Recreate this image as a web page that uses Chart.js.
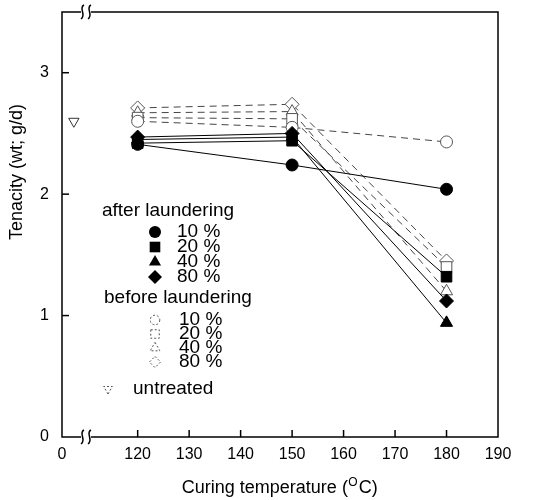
<!DOCTYPE html>
<html><head><meta charset="utf-8">
<script src="https://cdn.jsdelivr.net/npm/chart.js@4/dist/chart.umd.min.js"></script>
<style>html,body{margin:0;padding:0;background:#fff}</style>
</head><body>
<canvas id="c" width="547" height="500"></canvas>
<script>
// ---- data ----
const temperatures = [120, 150, 180];
const after10 = [2.41, 2.24, 2.04];
const after20 = [2.42, 2.44, 1.32];
const after40 = [2.45, 2.47, 0.94];
const after80 = [2.47, 2.50, 1.12];
const before10 = [2.60, 2.55, 2.43];
const before20 = [2.63, 2.62, 1.40];
const before40 = [2.67, 2.68, 1.20];
const before80 = [2.71, 2.74, 1.45];
const untreatedTemp = [0];
const untreatedTenacity = [2.60];
const xTickValues = [0, 120, 130, 140, 150, 160, 170, 180, 190];
const yTickValues = [0, 1, 2, 3];
const legendAfter = ['10 %', '20 %', '40 %', '80 %'];
const legendBefore = ['10 %', '20 %', '40 %', '80 %'];

// ---- axis break: 0 is drawn at the left end of the broken axis ----
const BREAK_ZERO = 105.3;
const UNTREATED_SHIFT = 2.3;
function toAxis(t) { return t < 100 ? BREAK_ZERO + t : t; }

const FONT = "'Liberation Sans', Arial, sans-serif";

function pts(ys) { return temperatures.map((t, i) => ({x: t, y: ys[i]})); }
function afterDs(ys, style, r) {
  return {data: pts(ys), borderColor: '#000', borderWidth: 1, pointStyle: style,
    pointRadius: r, pointBackgroundColor: '#000', pointBorderColor: '#000', pointBorderWidth: 1, order: 1};
}
function beforeDs(ys, style, r) {
  return {data: pts(ys), borderColor: '#444', borderWidth: 1, borderDash: [7, 5], pointStyle: style,
    pointRadius: r, pointBackgroundColor: '#fff', pointBorderColor: '#555', pointBorderWidth: 1, order: 2};
}

const datasets = [
  beforeDs(before10, 'circle', 6),
  beforeDs(before20, 'rect', 7.5),
  beforeDs(before40, 'triangle', 7),
  beforeDs(before80, 'rectRot', 7),
  afterDs(after10, 'circle', 6),
  afterDs(after20, 'rect', 7.5),
  afterDs(after40, 'triangle', 7),
  afterDs(after80, 'rectRot', 7),
  {data: untreatedTemp.map((t, i) => ({x: toAxis(t) + UNTREATED_SHIFT, y: untreatedTenacity[i]})),
   showLine: false, pointStyle: 'triangle', rotation: 180, pointRadius: 6,
   pointBackgroundColor: '#fff', pointBorderColor: '#333', pointBorderWidth: 1}
];

function shape(ctx, style, x, y, r, filled) {
  ctx.save();
  ctx.beginPath();
  if (style === 'circle') ctx.arc(x, y, r, 0, Math.PI * 2);
  else if (style === 'rect') { const s = r * Math.SQRT1_2; ctx.rect(x - s, y - s, 2 * s, 2 * s); }
  else if (style === 'triangle') { ctx.moveTo(x, y - r); ctx.lineTo(x + r * 0.866, y + r * 0.5); ctx.lineTo(x - r * 0.866, y + r * 0.5); ctx.closePath(); }
  else if (style === 'triDown') { ctx.moveTo(x, y + r); ctx.lineTo(x + r * 0.866, y - r * 0.5); ctx.lineTo(x - r * 0.866, y - r * 0.5); ctx.closePath(); }
  else if (style === 'rectRot') { ctx.moveTo(x, y - r); ctx.lineTo(x + r, y); ctx.lineTo(x, y + r); ctx.lineTo(x - r, y); ctx.closePath(); }
  if (filled) { ctx.fillStyle = '#000'; ctx.fill(); }
  else { ctx.fillStyle = '#fff'; ctx.fill(); ctx.strokeStyle = '#555'; ctx.lineWidth = 1; ctx.setLineDash([2, 2]); ctx.stroke(); }
  ctx.restore();
}

function squiggle(ctx, x, y) {
  ctx.save();
  ctx.fillStyle = '#fff';
  ctx.fillRect(x - 1, y - 3, 10, 6);
  ctx.strokeStyle = '#000';
  ctx.lineWidth = 1.5;
  [x, x + 7].forEach(sx => {
    ctx.beginPath();
    ctx.moveTo(sx + 2, y - 7);
    ctx.bezierCurveTo(sx - 4, y - 4, sx + 5, y + 3, sx - 1, y + 7);
    ctx.stroke();
  });
  ctx.restore();
}

const decor = {
  id: 'decor',
  afterDatasetsDraw(chart) {
    const ctx = chart.ctx, a = chart.chartArea;
    const xs = chart.scales.x, ys = chart.scales.y;
    ctx.save();
    // frame
    ctx.strokeStyle = '#000';
    ctx.lineWidth = 1.5;
    ctx.strokeRect(a.left, a.top, a.right - a.left, a.bottom - a.top);
    // inward ticks
    yTickValues.forEach(v => {
      if (v === 0) return;
      const py = ys.getPixelForValue(v);
      ctx.beginPath(); ctx.moveTo(a.left, py); ctx.lineTo(a.left + 7, py); ctx.stroke();
    });
    xTickValues.forEach(v => {
      if (v === 0 || v === 190) return;
      const px = xs.getPixelForValue(toAxis(v));
      ctx.beginPath(); ctx.moveTo(px, a.bottom); ctx.lineTo(px, a.bottom - 7); ctx.stroke();
    });
    // axis breaks
    const bx = a.left + 20;
    squiggle(ctx, bx, a.bottom);
    squiggle(ctx, bx, a.top);

    // axis titles
    ctx.fillStyle = '#000';
    ctx.textBaseline = 'middle';
    const big = '18px ' + FONT, sup = '12px ' + FONT;
    const p1 = 'Curing temperature (', p2 = 'O', p3 = 'C)';
    ctx.font = big; const w1 = ctx.measureText(p1).width, w3 = ctx.measureText(p3).width;
    ctx.font = sup; const w2 = ctx.measureText(p2).width;
    let tx = 279 - (w1 + w2 + w3) / 2, ty = 488;
    ctx.textAlign = 'left';
    ctx.font = big; ctx.fillText(p1, tx, ty);
    ctx.font = sup; ctx.fillText(p2, tx + w1 + 0.5, ty - 5);
    ctx.font = big; ctx.fillText(p3, tx + w1 + w2 + 1.5, ty);
    // y title
    ctx.save();
    ctx.translate(17, 172);
    ctx.rotate(-Math.PI / 2);
    ctx.textAlign = 'center';
    ctx.font = big;
    ctx.fillText('Tenacity (wt; g/d)', 0, 0);
    ctx.restore();

    // legend
    ctx.font = '19px ' + FONT;
    ctx.textAlign = 'left';
    ctx.fillText('after laundering', 102, 211);
    const styles = ['circle', 'rect', 'triangle', 'rectRot'];
    const radii = [6, 7.5, 7, 7];
    const afterRows = [232, 247, 262, 277];
    legendAfter.forEach((t, i) => {
      shape(ctx, styles[i], 155, afterRows[i], radii[i], true);
      ctx.fillStyle = '#000';
      ctx.fillText(t, 177, afterRows[i]);
    });
    ctx.fillText('before laundering', 104, 298);
    const beforeRows = [320, 334, 348, 362];
    legendBefore.forEach((t, i) => {
      shape(ctx, styles[i], 155, beforeRows[i], radii[i] * 0.8, false);
      ctx.fillStyle = '#000';
      ctx.fillText(t, 179, beforeRows[i]);
    });
    shape(ctx, 'triDown', 108, 389, 5, false);
    ctx.fillStyle = '#000';
    ctx.fillText('untreated', 133, 389);
    ctx.restore();
  }
};

new Chart(document.getElementById('c'), {
  type: 'line',
  data: {datasets},
  plugins: [decor],
  options: {
    responsive: false,
    animation: false,
    devicePixelRatio: 1,
    layout: {padding: {top: 12, right: 49, left: 0, bottom: 0}},
    plugins: {legend: {display: false}, tooltip: {enabled: false}},
    elements: {line: {tension: 0}},
    scales: {
      x: {
        type: 'linear', min: BREAK_ZERO, max: 190,
        afterBuildTicks: s => { s.ticks = xTickValues.map(v => ({value: toAxis(v)})); },
        afterFit: s => { s.height = 63; s.paddingLeft = 0; s.paddingRight = 0; },
        ticks: {callback: v => (v < 110 ? '0' : String(v)), font: {family: FONT, size: 16}, color: '#000',
          padding: 8, maxRotation: 0, autoSkip: false},
        grid: {display: false, drawTicks: false},
        border: {display: false}
      },
      y: {
        min: 0, max: 3.5,
        afterBuildTicks: s => { s.ticks = yTickValues.map(v => ({value: v})); },
        afterFit: s => { s.width = 62; s.paddingTop = 0; s.paddingBottom = 0; },
        ticks: {font: {family: FONT, size: 16}, color: '#000', padding: 13},
        grid: {display: false, drawTicks: false},
        border: {display: false}
      }
    }
  }
});
</script>
</body></html>
